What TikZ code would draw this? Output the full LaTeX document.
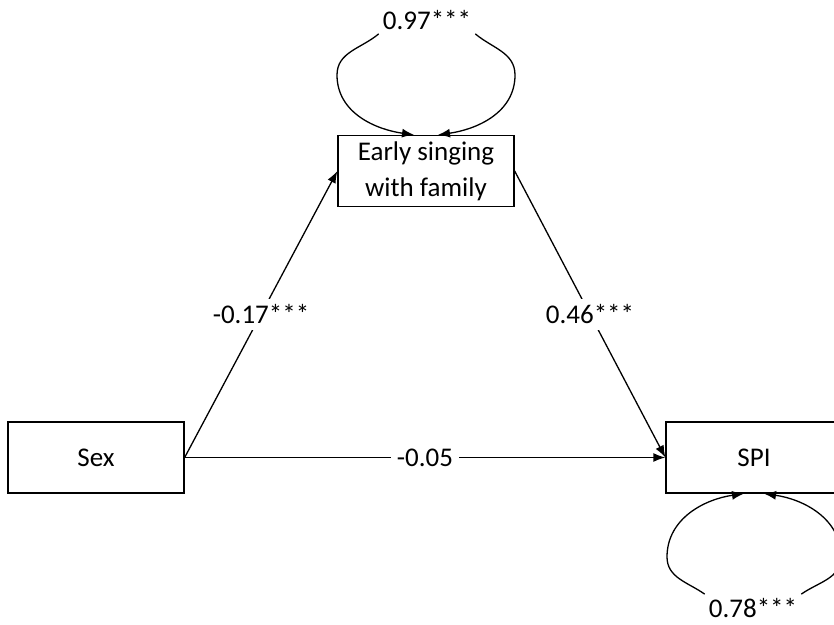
\documentclass[tikz,border=0pt]{standalone}
\usepackage{fontspec}
\setmainfont{Carlito}
\usepackage{tikz}
\usetikzlibrary{arrows.meta}
\usetikzlibrary{calc}
\definecolor{linecolor}{HTML}{000000}

\tikzset{
  varbox/.style={draw=linecolor, line width=1.3pt, minimum width=176pt, minimum height=71pt,
    align=center, inner sep=0pt, font=\fontsize{27}{36}\selectfont},
  coef/.style={fill=white, inner sep=6pt, font=\fontsize{27}{30}\selectfont},
  pathline/.style={draw=linecolor, line width=1.3pt, -{Latex[length=12pt,width=9pt]}},
}

\begin{document}
\begin{tikzpicture}[x=1pt,y=1pt]
\useasboundingbox (0,0) rectangle (834,624);
  \node[varbox] (sex) at (96,166.5) {Sex};
  \node[varbox] (early) at (426,453) {Early singing\\with family};
  \node[varbox] (spi) at (754,166.5) {SPI};
%% direct and indirect paths
  \draw[pathline] (sex.east) -- (early.west) node[coef,midway] (c1) {-0.17***};
  \draw[pathline] (early.east) -- (spi.west) node[coef,midway] (c2) {0.46***};
  \draw[pathline] (sex.east) -- (spi.west) node[coef,midway] (c3) {-0.05};
%% residual variances
  \node[coef,fill=none,inner sep=4pt] (v1) at (427,604) {0.97***};
  \node[coef,fill=none,inner sep=4pt] (v2) at (753,16) {0.78***};
  \coordinate (t1) at (337,549);
  \coordinate (t2) at (515,549);
  \coordinate (b1) at (667,67);
  \coordinate (b2) at (841,67);
  \draw[pathline] (v1.south west) to[out=220,in=90] (t1) to[out=270,in=172] ([xshift=-12pt]early.north);
  \draw[pathline] (v1.south east) to[out=-40,in=90] (t2) to[out=270,in=8] ([xshift=12pt]early.north);
  \draw[pathline] (v2.north west) to[out=145,in=270] (b1) to[out=90,in=188] ([xshift=-10pt]spi.south);
  \draw[pathline] (v2.north east) to[out=35,in=270] (b2) to[out=90,in=-8] ([xshift=10pt]spi.south);
\end{tikzpicture}
\end{document}
